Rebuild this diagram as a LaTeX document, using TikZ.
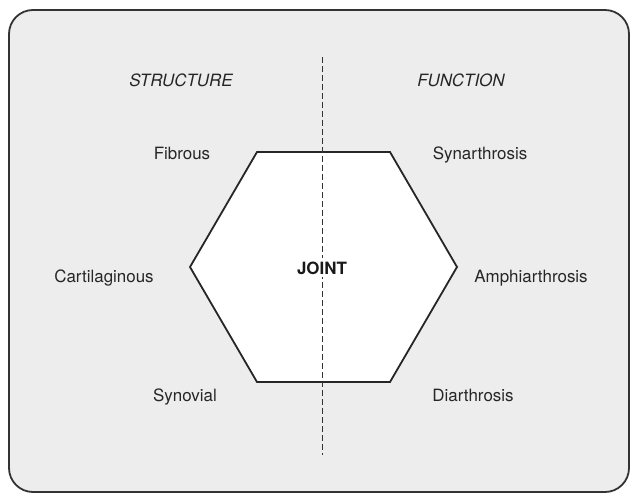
\documentclass[tikz,border=0pt]{standalone}
\usepackage{fontspec}
\setmainfont{TeX Gyre Heros}
\begin{document}
\begin{tikzpicture}[x=1bp,y=-1bp,
  lbl/.style={anchor=base,inner sep=0pt,text=black!85,font=\fontsize{17}{20}\selectfont},
  head/.style={lbl,font=\fontsize{17}{20}\selectfont\itshape},
  frame/.style={draw=black!80,line width=1.8bp,fill=black!7,rounded corners=24bp},
  hex/.style={draw=black!85,line width=1.8bp,fill=white,line join=miter},
  divider/.style={draw=black!80,line width=0.8bp,dash pattern=on 6bp off 3bp}]
\useasboundingbox (0,0) rectangle (635,494);
\draw[frame] (9,10) rectangle (629,492);
\coordinate (h1) at (257,152);
\coordinate (h2) at (390,152);
\coordinate (h3) at (457,267);
\coordinate (h4) at (390,382);
\coordinate (h5) at (257,382);
\coordinate (h6) at (190,267);
\draw[hex] (h1) -- (h2) -- (h3) -- (h4) -- (h5) -- (h6) -- cycle;
\coordinate (dtop) at (322,57);
\coordinate (dbot) at (322,455);
\draw[divider] (dtop) -- (dbot);
\node[lbl,font=\fontsize{17}{20}\selectfont\bfseries,text=black!90,fill=white,inner sep=3bp] (joint) at (322,274) {JOINT};
\node[head] (structure) at (181,87) {STRUCTURE};
\node[head] (function) at (461,87) {FUNCTION};
\node[lbl] (fibrous) at (182,160) {Fibrous};
\node[lbl] (cart) at (104,282) {Cartilaginous};
\node[lbl] (synovial) at (185,401) {Synovial};
\node[lbl] (synarth) at (480,160) {Synarthrosis};
\node[lbl] (amphi) at (531,282) {Amphiarthrosis};
\node[lbl] (diarth) at (473,401) {Diarthrosis};
\end{tikzpicture}
\end{document}
